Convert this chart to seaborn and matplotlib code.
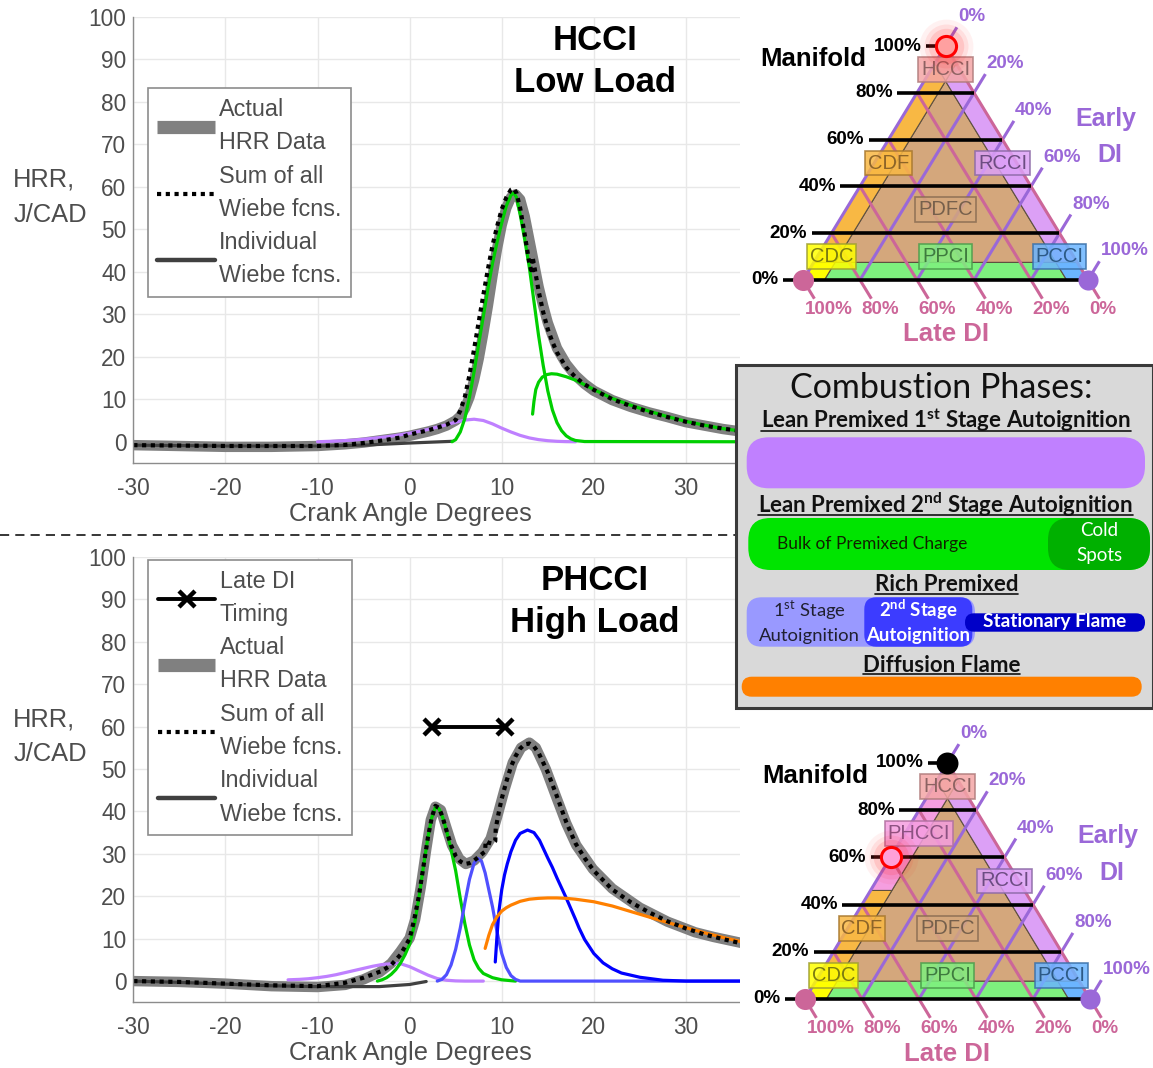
import numpy as np
import matplotlib
matplotlib.use("Agg")
import matplotlib.pyplot as plt
import seaborn as sns
from matplotlib.lines import Line2D
from matplotlib.patches import FancyBboxPatch, Rectangle

# ---------------- heat release rate data (crank angle deg -> J/CAD) ----------------
# HCCI, low load
hcci_cad_actual = [-30, -25, -20, -15, -10, -7, -5, -3, -1, 0, 1, 2, 3, 4, 5, 5.5, 6, 6.5, 7, 7.5,
                   8, 8.5, 9, 9.5, 10, 10.5, 11, 11.5, 12, 12.5, 13, 13.5, 14, 14.5, 15, 16, 17, 18,
                   19, 20, 22, 24, 26, 28, 30, 32, 34, 36]
hcci_hrr_actual = [-0.8, -1.0, -1.2, -1.2, -1.0, -0.6, -0.2, 0.4, 1.0, 1.4, 1.9, 2.4, 3.0, 3.8, 5.0,
                   6.0, 7.8, 10.5, 14.5, 19.5, 25.5, 32, 39, 45.5, 51, 55, 57.5, 58.2, 57, 53, 47.5,
                   42, 36.5, 32, 28, 22, 18.3, 15.6, 13.6, 12.0, 9.8, 8.2, 6.9, 5.8, 4.6, 3.8, 3.0, 2.4]
hcci_cad_sum = [-30, -25, -20, -15, -10, -7, -5, -3, -1, 0, 1, 2, 3, 4, 5, 5.5, 6, 6.5, 7, 7.5, 8,
                8.5, 9, 9.5, 10, 10.5, 11, 11.3, 11.6, 12, 12.5, 13, 13.3, 13.35, 13.6, 14, 14.5, 15,
                15.5, 16, 17, 18, 19, 20, 22, 24, 26, 28, 30, 32, 34, 36]
hcci_hrr_sum = [-0.8, -0.9, -1.0, -1.0, -1.0, -0.75, -0.3, 0.3, 1.0, 1.7, 2.2, 2.7, 3.3, 4.0, 5.1,
                7.3, 10.6, 15.7, 21.8, 28.2, 34.5, 40.6, 46.2, 50.7, 54.7, 57.5, 59.3, 59.6, 58.5,
                55, 48.7, 42, 39.5, 43.5, 40.5, 35.5, 30.5, 26.5, 23.5, 21, 17.5, 15.2, 13.5, 12.2,
                10.0, 8.4, 7.0, 5.8, 4.7, 3.8, 3.1, 2.5]
hcci_cad_w0 = [-30, -20, -10, -5, 0, 4.6]
hcci_hrr_w0 = [-0.8, -1.0, -1.0, -0.8, -0.3, 0.1]
hcci_cad_lean1 = [-10, -8, -6, -4, -2, 0, 2, 4, 5, 6, 7, 8, 9, 10, 11, 12, 13, 14, 15, 16, 17, 18]
hcci_hrr_lean1 = [0, 0.15, 0.4, 0.8, 1.3, 2.0, 2.9, 4.0, 4.6, 5.1, 5.3, 5.0, 4.2, 3.2, 2.3, 1.5,
                  0.9, 0.5, 0.25, 0.1, 0.03, 0]
hcci_cad_lean2 = [4.6, 5, 5.5, 6, 6.5, 7, 7.5, 8, 8.5, 9, 9.5, 10, 10.5, 11, 11.3, 11.6, 12, 12.5,
                  13, 13.5, 14, 14.5, 15, 15.5, 16, 16.5, 17, 17.5, 18, 19, 36]
hcci_hrr_lean2 = [0, 0.5, 2.3, 5.5, 10.5, 16.5, 23, 29.5, 36, 42, 47, 51.5, 55.5, 58, 58.6, 57.5,
                  53.5, 47.5, 41, 33, 25, 18, 12, 7.5, 4.5, 2.6, 1.4, 0.7, 0.3, 0.05, 0]
hcci_cad_cold = [13.35, 13.5, 13.7, 14.0, 14.4, 14.9, 15.4, 16, 17, 18, 19, 20, 22, 24, 26, 28, 30,
                 32, 34, 36]
hcci_hrr_cold = [6.5, 9.5, 12.3, 14.0, 15.2, 15.8, 16.0, 15.9, 15.3, 14.5, 13.4, 12.3, 10.2, 8.6,
                 7.2, 5.9, 4.8, 3.9, 3.1, 2.5]

# PHCCI, high load
phcci_cad_actual = [-30, -25, -20, -15, -10, -7, -5, -4, -3.3, -2, -1, 0, 0.6, 1.2, 1.8, 2.3, 2.8,
                    3.4, 3.9, 4.6, 5.4, 6.1, 7.0, 7.9, 8.8, 9.5, 10.3, 11.2, 12.1, 13.0, 13.7, 14.8,
                    15.9, 17.0, 18.1, 19.9, 22, 25, 28, 31, 33, 36]
phcci_hrr_actual = [0, -0.2, -0.6, -1.2, -1.4, -0.9, 0.4, 1.4, 2.0, 4.2, 7.0, 10.1, 14.5, 22, 31,
                    38, 41.1, 40.3, 36.8, 32, 28.8, 27.6, 28.4, 30.4, 33.6, 38.7, 45.1, 51.5, 55,
                    56.2, 55, 49.9, 43.5, 37.2, 32, 26.4, 21.8, 17.3, 14.0, 11.5, 10.4, 9.0]
phcci_cad_sum = [-30, -25, -20, -15, -10, -7, -5, -4, -3, -2, -1, 0, 0.5, 1, 1.5, 2, 2.4, 2.8, 3.2,
                 3.6, 4, 4.5, 5, 5.5, 6, 6.5, 7, 7.5, 8, 8.2, 8.25, 8.6, 9, 9.3, 9.35, 9.7, 10,
                 10.5, 11, 11.5, 12, 12.5, 13, 13.5, 14, 15, 16, 17, 18, 19, 20, 22, 24, 26, 28,
                 30, 32, 34, 36]
phcci_hrr_sum = [0, -0.2, -0.6, -1.0, -1.2, -0.4, 0.8, 1.6, 2.4, 3.8, 6.2, 10.0, 14.5, 20, 27, 34,
                 38.5, 41.3, 40.8, 38.5, 35.5, 32, 29.5, 28.2, 27.6, 27.8, 28.4, 29.3, 30.2, 30.5,
                 33.0, 32.6, 32.4, 33.0, 36.0, 40, 43, 47, 50.5, 53, 54.8, 55.8, 56, 55.3, 53.8,
                 49.2, 43.5, 37.5, 32.5, 29, 26, 21.6, 18.6, 16.2, 14.1, 12.4, 11.0, 9.9, 8.9]
phcci_cad_w0 = [-30, -25, -20, -15, -10, -5, -3.3, 0, 1.8]
phcci_hrr_w0 = [0, -0.3, -0.7, -1.1, -1.3, -1.3, -1.3, -0.8, -0.1]
phcci_cad_lean1 = [-13.2, -12, -11, -10, -9, -8, -7, -6, -5, -4, -3, -2, -1.4, -1, 0, 1, 2, 3, 4,
                   5, 6, 8]
phcci_hrr_lean1 = [0.3, 0.4, 0.55, 0.8, 1.1, 1.5, 2.0, 2.5, 3.0, 3.5, 3.9, 4.1, 4.2, 4.1, 3.4, 2.4,
                   1.4, 0.6, 0.2, 0.05, 0, 0]
phcci_cad_lean2 = [-3.5, -3, -2.5, -2, -1.5, -1, -0.5, 0, 0.5, 1, 1.5, 2, 2.4, 2.8, 3.2, 3.6, 4,
                   4.5, 5, 5.5, 6, 6.5, 7, 7.5, 8, 9, 10, 11.5]
phcci_hrr_lean2 = [0, 0.3, 0.8, 1.6, 2.7, 4.2, 6.2, 8.7, 13, 19.5, 27, 34, 38.5, 41.0, 40.6, 38.5,
                   35.5, 31, 26, 19.5, 13.5, 8.5, 5.0, 3.0, 1.8, 0.8, 0.3, 0]
phcci_cad_rich1 = [3, 3.5, 4, 4.5, 5, 5.5, 6, 6.5, 7, 7.4, 7.8, 8.2, 8.6, 9, 9.5, 10, 10.5, 11, 11.5,
                   12, 36]
phcci_hrr_rich1 = [0, 0.4, 1.5, 3.8, 7.5, 12.5, 18.5, 24, 27.8, 28.9, 28.3, 25.5, 21.5, 17.5, 11.5,
                   6.5, 3.2, 1.3, 0.4, 0, 0]
phcci_cad_rich2 = [9.3, 9.5, 9.7, 10, 10.3, 10.6, 11, 11.5, 12, 12.8, 13.5, 14.1, 15, 15.5, 16, 17,
                   18, 18.4, 19, 20, 21, 22, 23, 25, 27.5, 30, 36]
phcci_hrr_rich2 = [4.5, 11, 16.5, 21.5, 25, 27.6, 30.5, 33.2, 34.8, 35.6, 35.0, 33.2, 29, 26.8,
                   24.3, 19.6, 14.6, 12.5, 9.8, 6.5, 4.3, 2.9, 1.9, 0.9, 0.2, 0, 0]
phcci_cad_diff = [8.2, 8.6, 9, 9.5, 10, 10.5, 11, 12, 13, 14, 15, 16, 17, 18, 20, 22, 24, 26, 28,
                  30, 32, 34, 36]
phcci_hrr_diff = [7.7, 10.8, 13.3, 15.2, 16.5, 17.3, 17.9, 18.8, 19.3, 19.5, 19.6, 19.6, 19.5,
                  19.3, 18.7, 17.7, 16.4, 15.1, 13.8, 12.6, 11.4, 10.3, 9.3]
late_di_cad = [2.4, 10.4]
late_di_hrr = [60, 60]

cad_ticks = [-30, -20, -10, 0, 10, 20, 30]
cad_ticklabels = ["-30", "-20", "-10", "0", "10", "20", "30"]
hrr_ticks = [0, 10, 20, 30, 40, 50, 60, 70, 80, 90, 100]

# ---------------- strategy map (ternary: manifold / early DI / late DI, %) ----------------
manifold_ticks = [0, 20, 40, 60, 80, 100]
early_di_ticks = [0, 20, 40, 60, 80, 100]
late_di_ticks = [0, 20, 40, 60, 80, 100]
strip_width = 7.5
phcci_split = 46

top_mode_names = ["HCCI", "CDF", "RCCI", "PDFC", "CDC", "PPCI", "PCCI"]
top_mode_manifold = [90, 50, 50, 30, 10, 10, 10]
top_mode_early = [5, 5, 45, 35, 5, 45, 85]
bottom_mode_names = ["HCCI", "PHCCI", "CDF", "RCCI", "PDFC", "CDC", "PPCI", "PCCI"]
bottom_mode_manifold = [90, 70, 30, 50, 30, 10, 10, 10]
bottom_mode_early = [5, 5, 5, 45, 35, 5, 45, 85]

# ---------------- styling ----------------
W, H = 1153, 1068
sns.set_theme(style="white")
plt.rcParams["font.family"] = ["Liberation Sans", "DejaVu Sans"]
plt.rcParams["axes.unicode_minus"] = False
plt.rcParams["mathtext.fontset"] = "custom"
plt.rcParams["mathtext.rm"] = "Lato"
plt.rcParams["mathtext.bf"] = "Lato:bold"

C_ACTUAL = "#808080"
C_W0 = "#404040"
C_LEAN1 = "#bf80ff"
C_LEAN2 = "#00cf00"
C_RICH1 = "#5050ff"
C_RICH2 = "#0000ff"
C_DIFF = "#ff8000"
AX_GRAY = "#8c8c8c"
TXT_GRAY = "#4d4d4d"
DOTS = (0, (1.0, 1.1))

MODE_FILL = {"HCCI": "#f4a6a6", "PHCCI": "#f59ee0", "CDF": "#f8b844", "RCCI": "#dca0f6",
             "PDFC": "#d4a77c", "CDC": "#ffff00", "PPCI": "#7ef07e", "PCCI": "#6bb5ff"}
MODE_TEXT = {"HCCI": "#8c6262", "PHCCI": "#8c5282", "CDF": "#8c6428", "RCCI": "#6c4c82",
             "PDFC": "#76604c", "CDC": "#7a7a10", "PPCI": "#3e7a3e", "PCCI": "#2c5a86"}
MODE_EDGE = {"HCCI": "#b07c7c", "PHCCI": "#b070a0", "CDF": "#a8782e", "RCCI": "#8c6aa6",
             "PDFC": "#8a6c52", "CDC": "#a0a030", "PPCI": "#4c9c4c", "PCCI": "#3a70a8"}
C_EARLY = "#9a68d8"
C_LATE = "#cc6699"

fig = plt.figure(figsize=(W / 100, H / 100), dpi=100)
fig.patch.set_facecolor("white")


def fig_rect(x0, y0, x1, y1):
    return [x0 / W, 1 - y1 / H, (x1 - x0) / W, (y1 - y0) / H]


def curve(ax, x, y, **kw):
    sns.lineplot(x=x, y=y, ax=ax, sort=False, estimator=None, legend=False, **kw)


def hrr_axes(rect):
    ax = fig.add_axes(rect)
    ax.set_facecolor("white")
    ax.set_xlim(-30, 35.87)
    ax.set_ylim(-5, 100)
    ax.set_xticks(cad_ticks)
    ax.set_xticklabels(cad_ticklabels)
    ax.set_yticks(hrr_ticks)
    ax.set_yticklabels([str(v) for v in hrr_ticks])
    ax.grid(True, color="#e8e8e8", linewidth=1)
    ax.set_axisbelow(True)
    for s in ["top", "right"]:
        ax.spines[s].set_visible(False)
    for s in ["left", "bottom"]:
        ax.spines[s].set_color(AX_GRAY)
        ax.spines[s].set_linewidth(1.0)
    ax.tick_params(axis="both", direction="in", length=6, width=1, color=AX_GRAY,
                   labelsize=16.3, labelcolor=TXT_GRAY)
    ax.tick_params(axis="x", pad=10)
    ax.tick_params(axis="y", pad=5)
    ax.set_xlabel("Crank Angle Degrees", fontsize=18.4, color=TXT_GRAY)
    ax.xaxis.set_label_coords(0.456, -0.087)
    ax.set_ylabel("HRR,\nJ/CAD", fontsize=18.4, color=TXT_GRAY, rotation=0,
                  ha="left", va="center", linespacing=1.6)
    ax.yaxis.set_label_coords(-0.198, 0.596)
    return ax


def add_legend(ax, handles, labels, anchor):
    leg = ax.legend(handles, labels, loc="upper left", bbox_to_anchor=anchor,
                    borderaxespad=0, fontsize=16.8, frameon=True, fancybox=False,
                    edgecolor="#8c8c8c", framealpha=1, borderpad=0.42, labelspacing=0.45,
                    handlelength=2.45, handletextpad=0.2)
    leg.get_frame().set_linewidth(1.2)
    for t in leg.get_texts():
        t.set_color(TXT_GRAY)
        t.set_linespacing(1.56)
    return leg


h_actual = Line2D([], [], color=C_ACTUAL, linewidth=9.5, solid_capstyle="butt")
h_sum = Line2D([], [], color="black", linewidth=3, linestyle=DOTS)
h_ind = Line2D([], [], color=C_W0, linewidth=3.2)
h_late = Line2D([], [], color="black", linewidth=2.8, marker="x", markersize=12,
                markeredgewidth=3.2)

# ---- HCCI low load ----
ax1 = hrr_axes(fig_rect(133.3, 16.7, 740, 463))
curve(ax1, hcci_cad_actual, hcci_hrr_actual, color=C_ACTUAL, linewidth=7.5,
      solid_capstyle="round", solid_joinstyle="round")
curve(ax1, hcci_cad_w0, hcci_hrr_w0, color=C_W0, linewidth=2.3)
curve(ax1, hcci_cad_lean1, hcci_hrr_lean1, color=C_LEAN1, linewidth=2.3)
curve(ax1, hcci_cad_lean2, hcci_hrr_lean2, color=C_LEAN2, linewidth=2.3)
curve(ax1, hcci_cad_cold, hcci_hrr_cold, color=C_LEAN2, linewidth=2.3)
curve(ax1, hcci_cad_sum, hcci_hrr_sum, color="black", linewidth=3, linestyle=DOTS)
ax1.text(20.1, 89.5, "HCCI\nLow Load", ha="center", va="center", fontsize=25,
         fontweight="bold", color="black", linespacing=1.37)
add_legend(ax1, [h_actual, h_sum, h_ind],
           ["Actual\nHRR Data", "Sum of all\nWiebe fcns.", "Individual\nWiebe fcns."],
           (0.0236, 0.8396))

# ---- PHCCI high load ----
ax2 = hrr_axes(fig_rect(133.3, 556.8, 740, 1002.3))
curve(ax2, phcci_cad_actual, phcci_hrr_actual, color=C_ACTUAL, linewidth=7.5,
      solid_capstyle="round", solid_joinstyle="round")
curve(ax2, phcci_cad_w0, phcci_hrr_w0, color=C_W0, linewidth=2.3)
curve(ax2, phcci_cad_lean1, phcci_hrr_lean1, color=C_LEAN1, linewidth=2.3)
curve(ax2, phcci_cad_lean2, phcci_hrr_lean2, color=C_LEAN2, linewidth=2.3)
curve(ax2, phcci_cad_rich1, phcci_hrr_rich1, color=C_RICH1, linewidth=2.3)
curve(ax2, phcci_cad_rich2, phcci_hrr_rich2, color=C_RICH2, linewidth=2.3)
curve(ax2, phcci_cad_diff, phcci_hrr_diff, color=C_DIFF, linewidth=2.3)
curve(ax2, phcci_cad_sum, phcci_hrr_sum, color="black", linewidth=3, linestyle=DOTS)
curve(ax2, late_di_cad, late_di_hrr, color="black", linewidth=2.8, marker="x",
      markersize=12, markeredgewidth=3.2, markeredgecolor="black")
ax2.text(20.1, 89.5, "PHCCI\nHigh Load", ha="center", va="center", fontsize=25,
         fontweight="bold", color="black", linespacing=1.37)
add_legend(ax2, [h_late, h_actual, h_sum, h_ind],
           ["Late DI\nTiming", "Actual\nHRR Data", "Sum of all\nWiebe fcns.",
            "Individual\nWiebe fcns."], (0.0248, 0.993))

# separator between the two load cases
fig.add_artist(Line2D([0, 735 / W], [1 - 535 / H] * 2, color="black", linewidth=1.1,
                      linestyle=(0, (6, 4))))


# ---------------- strategy triangles ----------------
def txy(m, e):
    m = np.asarray(m, dtype=float) / 100.0
    e = np.asarray(e, dtype=float) / 100.0
    return e + 0.5 * m, m


def region_polys(w, split=None):
    polys = [
        ("PDFC", [(w, w), (w, 100 - 2 * w), (100 - 2 * w, w)]),
        ("RCCI", [(w, 100 - w), (w, 100 - 2 * w), (100 - 2 * w, w), (100 - w, w)]),
        ("PPCI", [(0, w), (0, 100 - w), (w, 100 - 2 * w), (w, w)]),
        ("CDC", [(0, 0), (0, w), (w, w), (w, 0)]),
        ("PCCI", [(0, 100), (0, 100 - w), (w, 100 - 2 * w), (w, 100 - w)]),
        ("HCCI", [(100, 0), (100 - w, 0), (100 - 2 * w, w), (100 - w, w)]),
    ]
    if split is None:
        polys.append(("CDF", [(w, 0), (w, w), (100 - 2 * w, w), (100 - w, 0)]))
    else:
        polys.append(("CDF", [(w, 0), (w, w), (split, w), (split, 0)]))
        polys.append(("PHCCI", [(split, 0), (split, w), (100 - 2 * w, w), (100 - w, 0)]))
    return polys


def glow_point(ax, x, y, face):
    for s, a in [(1500, 0.06), (1000, 0.09), (650, 0.13)]:
        ax.scatter([x], [y], s=s, color="#ff2020", alpha=a, linewidths=0, zorder=6)
    ax.scatter([x], [y], s=210, facecolor=face, edgecolor="#ff0000", linewidths=2.2,
               zorder=7)


def strategy_map(rect, xlim, ylim, names, man, early, split=None, points=()):
    ax = fig.add_axes(rect)
    ax.set_xlim(*xlim)
    ax.set_ylim(*ylim)
    ax.set_xticks([])
    ax.set_yticks([])
    for s in ax.spines.values():
        s.set_visible(False)
    ax.set_facecolor("white")

    for name, verts in region_polys(strip_width, split):
        xs, ys = txy([v[0] for v in verts], [v[1] for v in verts])
        ax.fill(xs, ys, color=MODE_FILL[name], ec="#5e5040", linewidth=0.8, zorder=1)

    ext = 0.08
    # early DI lines (constant early share), labelled along the right edge
    for e in early_di_ticks:
        f = e / 100.0
        x0, y0 = f, 0.0
        x1, y1 = 0.5 + 0.5 * f + 0.5 * ext, 1 - f + ext
        ax.plot([x0, x1], [y0, y1], color=C_EARLY, linewidth=2.2, zorder=2,
                solid_capstyle="butt")
        ax.text(x1 + 0.004, y1 + 0.008, f"{e}%", color=C_EARLY, fontsize=13.5,
                fontweight="bold", ha="left", va="bottom", zorder=8)
    # late DI lines (constant late share), labelled below the base
    for l in late_di_ticks:
        f = l / 100.0
        x0, y0 = 0.5 * (1 - f), 1 - f
        x1, y1 = 1 - f + 0.5 * ext, -ext
        ax.plot([x0, x1], [y0, y1], color=C_LATE, linewidth=2.2, zorder=2,
                solid_capstyle="butt")
        ax.text(x1 - 0.035, -0.09, f"{l}%", color=C_LATE, fontsize=13.5,
                fontweight="bold", ha="left", va="top", zorder=8)
    # manifold levels
    for m in manifold_ticks:
        f = m / 100.0
        xl = 0.5 * f - 0.07
        ax.plot([xl, 1 - 0.5 * f], [f, f], color="black", linewidth=2.6, zorder=3,
                solid_capstyle="butt")
        ax.text(xl - 0.015, f, f"{m}%", color="black", fontsize=13.5, fontweight="bold",
                ha="right", va="center", zorder=8)

    # combustion mode tags
    for name, m, e in zip(names, man, early):
        x, y = txy(m, e)
        ax.text(x, y, name, ha="center", va="center", fontsize=14.5, color=MODE_TEXT[name],
                zorder=5,
                bbox=dict(boxstyle="square,pad=0.14", fc=MODE_FILL[name],
                          ec=MODE_EDGE[name], lw=1.2, alpha=0.85))

    # corner markers for pure late / pure early injection
    ax.scatter([0.0], [0.0], s=230, color=C_LATE, linewidths=0, zorder=6)
    ax.scatter([1.0], [0.0], s=210, color=C_EARLY, linewidths=0, zorder=6)

    for (m, e, style) in points:
        x, y = txy(m, e)
        if style == "black":
            ax.scatter([x], [y], s=250, color="black", linewidths=0, zorder=7)
        elif style == "red":
            glow_point(ax, x, y, "#ffa0a0")
        else:
            glow_point(ax, x, y, "#ffa0d8")

    ax.text(0.037, 0.945, "Manifold", fontsize=18.5, fontweight="bold", color="black",
            ha="center", va="center", zorder=8)
    ax.text(1.063, 0.69, "Early", fontsize=18, fontweight="bold", color=C_EARLY,
            ha="center", va="center", zorder=8)
    ax.text(1.075, 0.534, "DI", fontsize=18, fontweight="bold", color=C_EARLY,
            ha="center", va="center", zorder=8)
    ax.text(0.5, -0.231, "Late DI", fontsize=18.5, fontweight="bold", color=C_LATE,
            ha="center", va="center", zorder=8)
    return ax


strategy_map(fig_rect(740, 0, 1153, 360), (-0.2211, 1.2281), (-0.3419, 1.1966),
             top_mode_names, top_mode_manifold, top_mode_early,
             points=[(100, 0, "red")])
strategy_map(fig_rect(740, 712, 1153, 1068), (-0.2281, 1.2211), (-0.2924, 1.2161),
             bottom_mode_names, bottom_mode_manifold, bottom_mode_early, split=phcci_split,
             points=[(100, 0, "black"), (60, 0, "pink")])

# ---------------- combustion phase key ----------------
axp = fig.add_axes(fig_rect(736, 365, 1153, 708))
axp.set_xlim(0, 417)
axp.set_ylim(343, 0)
axp.axis("off")
axp.add_patch(Rectangle((0, 0), 417, 343, fc="#d9d9d9", ec="#3a3a3a", lw=2.2,
                        clip_on=False, zorder=0))


def pill(x0, x1, yc, h, color, r, z=1):
    axp.add_patch(FancyBboxPatch((x0, yc - h / 2), x1 - x0, h,
                                 boxstyle=f"round,pad=0,rounding_size={r}",
                                 fc=color, ec="none", zorder=z))


pill(10.7, 409, 97.8, 51, "#c080ff", 22)
pill(12.3, 414, 179, 52, "#00e400", 22)
pill(312, 414, 179, 52, "#00b000", 22, z=2)
pill(10.7, 239, 257, 49.4, "#9999ff", 15)
pill(128.3, 236.3, 257, 49.4, "#3c3cff", 12, z=2)
pill(229, 409, 257.5, 18.4, "#0000c8", 9, z=3)
pill(5.7, 405.7, 321.7, 20, "#ff8000", 10)

PANEL_FONT = ["Lato", "DejaVu Sans"]
axp.text(205, 33.3, "Combustion Phases:", fontsize=24.5, family=PANEL_FONT, color="#111111",
         ha="center", va="baseline", zorder=5)
headers = [
    (r"Lean Premixed 1$^{\mathbf{st}}$ Stage Autoignition", 209.8, 63.3),
    (r"Lean Premixed 2$^{\mathbf{nd}}$ Stage Autoignition", 209.8, 147.7),
    ("Rich Premixed", 210.7, 226.0),
    ("Diffusion Flame", 205.7, 306.7),
]
header_texts = []
for label, x, y in headers:
    t = axp.text(x, y, label, fontsize=16, fontweight="bold", family=PANEL_FONT,
                 color="#111111", ha="center", va="baseline", zorder=5)
    header_texts.append((t, y))

axp.text(135.7, 179, "Bulk of Premixed Charge", fontsize=12.5, family=PANEL_FONT,
         color="#102000", ha="center", va="center", zorder=5)
axp.text(363.3, 166, "Cold", fontsize=13.5, family=PANEL_FONT, color="white",
         ha="center", va="center", zorder=5)
axp.text(363.3, 191, "Spots", fontsize=13.5, family=PANEL_FONT, color="white",
         ha="center", va="center", zorder=5)
axp.text(73, 245, r"1$^{\mathrm{st}}$ Stage", fontsize=13.3, family=PANEL_FONT,
         color="#202030", ha="center", va="center", zorder=5)
axp.text(73, 271, "Autoignition", fontsize=13.3, family=PANEL_FONT, color="#202030",
         ha="center", va="center", zorder=5)
axp.text(182.3, 245, r"2$^{\mathbf{nd}}$ Stage", fontsize=13.4, fontweight="bold",
         family=PANEL_FONT, color="white", ha="center", va="center", zorder=5)
axp.text(182.3, 271, "Autoignition", fontsize=13.4, fontweight="bold", family=PANEL_FONT,
         color="white", ha="center", va="center", zorder=5)
axp.text(319, 256.7, "Stationary Flame", fontsize=13.7, fontweight="bold", family=PANEL_FONT,
         color="white", ha="center", va="center", zorder=5)

# underline the section headers
fig.canvas.draw()
renderer = fig.canvas.get_renderer()
inv = axp.transData.inverted()
for t, yb in header_texts:
    bb = t.get_window_extent(renderer)
    (xa, _), (xb, _) = inv.transform([(bb.x0, bb.y0), (bb.x1, bb.y0)])
    axp.plot([xa, xb], [yb + 2.5, yb + 2.5], color="#111111", linewidth=1.2, zorder=5)

fig.savefig("out.png", dpi=100, facecolor="white")
